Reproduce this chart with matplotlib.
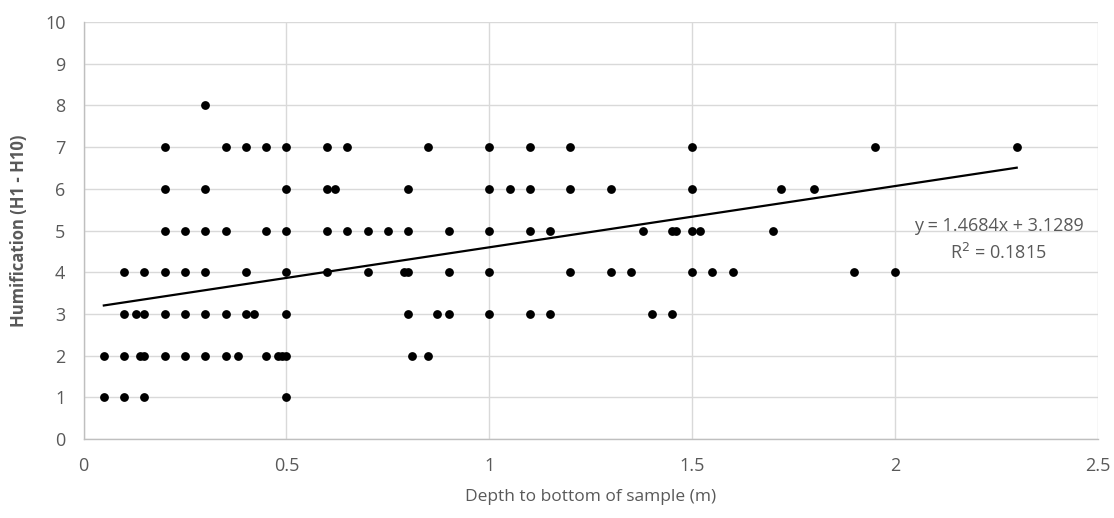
import matplotlib
matplotlib.use("Agg")
import matplotlib.pyplot as plt
import numpy as np

# Depth values (m) grouped by humification level
depth_h1 = [0.05, 0.1, 0.15, 0.5]
depth_h2 = [0.05, 0.1, 0.14, 0.15, 0.2, 0.25, 0.3, 0.35, 0.38, 0.45, 0.48, 0.49, 0.5, 0.81, 0.85]
depth_h3 = [0.1, 0.13, 0.15, 0.2, 0.25, 0.3, 0.35, 0.4, 0.42, 0.5, 0.8, 0.87, 0.9, 1.0, 1.1, 1.15, 1.4, 1.45]
depth_h4 = [0.1, 0.15, 0.2, 0.25, 0.3, 0.4, 0.5, 0.6, 0.7, 0.79, 0.8, 0.9, 1.0, 1.2, 1.3, 1.35, 1.5, 1.55, 1.6, 1.9, 2.0]
depth_h5 = [0.2, 0.25, 0.3, 0.35, 0.45, 0.5, 0.6, 0.65, 0.7, 0.75, 0.8, 0.9, 1.0, 1.1, 1.15, 1.38, 1.45, 1.46, 1.5, 1.52, 1.7]
depth_h6 = [0.2, 0.3, 0.5, 0.6, 0.62, 0.8, 1.0, 1.05, 1.1, 1.2, 1.3, 1.5, 1.72, 1.8]
depth_h7 = [0.2, 0.35, 0.4, 0.45, 0.5, 0.6, 0.65, 0.85, 1.0, 1.1, 1.2, 1.5, 1.95, 2.3]
depth_h8 = [0.3]

levels = [1, 2, 3, 4, 5, 6, 7, 8]
groups = [depth_h1, depth_h2, depth_h3, depth_h4, depth_h5, depth_h6, depth_h7, depth_h8]

slope = 1.4684
intercept = 3.1289
r_squared = 0.1815

x_ticks = [0, 0.5, 1, 1.5, 2, 2.5]
x_tick_labels = ["0", "0.5", "1", "1.5", "2", "2.5"]
y_ticks = list(range(0, 11))

depth = np.concatenate([np.array(g, dtype=float) for g in groups])
humif = np.concatenate([np.full(len(g), lv, dtype=float) for g, lv in zip(groups, levels)])

plt.rcParams['font.family'] = ['Open Sans', 'DejaVu Sans']

fig = plt.figure(figsize=(11.14, 5.18), dpi=100)
ax = fig.add_axes([0.075, 0.1525, 0.9105, 0.805])

grid_c = "#d9d9d9"
text_c = "#595959"

ax.set_xlim(0, 2.5)
ax.set_ylim(0, 10)
ax.set_xticks(x_ticks)
ax.set_xticklabels(x_tick_labels)
ax.set_yticks(y_ticks)
ax.grid(True, color=grid_c, linewidth=1.0)
ax.set_axisbelow(True)
for s in ["top", "right"]:
    ax.spines[s].set_visible(False)
for s in ["left", "bottom"]:
    ax.spines[s].set_color("#bfbfbf")
    ax.spines[s].set_linewidth(1.0)
ax.tick_params(axis="x", length=0, colors=text_c, labelsize=13, pad=13)
ax.tick_params(axis="y", length=0, colors=text_c, labelsize=13, pad=13)

ax.scatter(depth, humif, s=40, color="black", zorder=3, linewidths=0)

xfit = np.array([depth.min(), depth.max()])
ax.plot(xfit, slope * xfit + intercept, color="black", linewidth=1.6, zorder=4)

ax.text(2.255, 5.12, f"y = {slope:.4f}x + {intercept:.4f}", ha="center", va="center",
        fontsize=13, color=text_c, zorder=5)
ax.text(2.255, 4.45, f"R$^2$ = {r_squared:.4f}", ha="center", va="center",
        fontsize=13, color=text_c, zorder=5)

ax.set_xlabel("Depth to bottom of sample (m)", fontsize=12.5, color=text_c, labelpad=10)
ax.set_ylabel("Humification (H1 - H10)", fontsize=12, color=text_c, fontweight="bold", labelpad=12)

fig.savefig("out.png", dpi=100)
